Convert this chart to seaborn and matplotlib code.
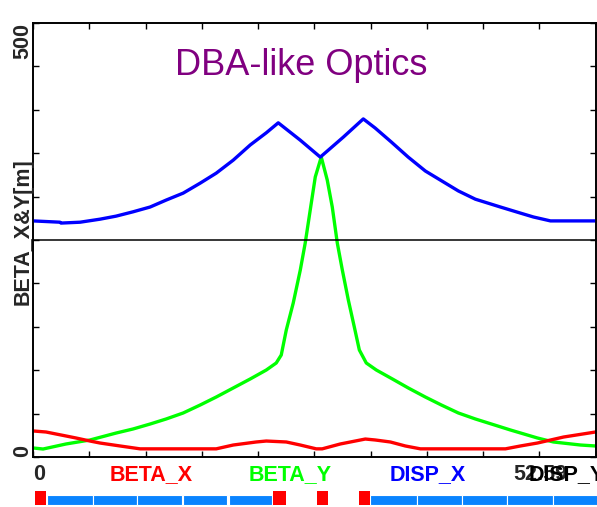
import matplotlib
matplotlib.use("Agg")
import matplotlib.pyplot as plt
import numpy as np
import seaborn as sns

# ---- optics functions along the cell ----
cell_length = 52.59

s_betx = [0.00, 1.22, 2.15, 3.09, 4.02, 5.33, 6.27, 8.14, 10.01, 17.13, 18.72, 20.87,
          21.81, 23.68, 24.99, 26.48, 27.04, 28.73, 31.07, 32.00, 33.41, 34.81, 36.22,
          44.17, 45.57, 47.16, 49.60, 52.59]
beta_x = [30.0, 28.8, 26.5, 24.2, 21.9, 18.4, 16.1, 12.7, 9.4, 9.4, 13.8, 17.3,
          18.4, 17.3, 13.8, 9.4, 9.4, 15.0, 20.7, 19.6, 17.3, 12.7, 9.4,
          9.4, 12.7, 16.1, 23.0, 28.8]

s_bety = [0.00, 0.94, 3.09, 5.33, 7.77, 9.36, 10.95, 12.45, 14.04, 15.63, 17.13,
          18.72, 20.31, 21.81, 22.74, 23.21, 23.68, 24.33, 24.99, 25.45, 25.92, 26.39,
          26.95, 27.51, 27.98, 28.45, 28.92, 29.48, 30.04, 30.51, 31.16, 32.10,
          33.60, 35.09, 36.68, 38.18, 39.77, 41.36, 42.86, 44.64, 47.16, 48.66,
          51.19, 52.59]
beta_y = [10.4, 9.2, 15.0, 19.6, 27.6, 32.3, 38.0, 43.8, 50.7, 59.9, 69.1,
          79.5, 89.9, 100.2, 108.3, 117.5, 146.3, 177.4, 215.4, 246.5, 284.6, 322.6,
          345.6, 319.1, 288.0, 246.5, 215.4, 180.9, 149.8, 123.3, 108.3, 100.2,
          89.9, 79.5, 69.1, 59.9, 50.7, 43.8, 38.0, 31.1, 21.9, 17.3,
          13.8, 12.7]

s_dx = [0.00, 2.53, 2.62, 4.40, 6.27, 7.77, 9.36, 10.95, 12.45, 14.04, 15.63,
        17.13, 18.72, 20.31, 21.81, 22.93, 24.99, 26.86, 29.01, 30.88, 31.99,
        33.49, 35.08, 36.68, 38.09, 39.77, 41.36, 43.70, 45.57, 46.79, 48.38, 52.59]
disp_x = [0.044, 0.041, 0.039, 0.041, 0.048, 0.055, 0.065, 0.076, 0.092, 0.108, 0.131,
          0.154, 0.184, 0.219, 0.247, 0.270, 0.230, 0.191, 0.237, 0.279, 0.258,
          0.226, 0.191, 0.159, 0.138, 0.113, 0.094, 0.076, 0.062, 0.053, 0.044, 0.044]

# ---- lattice elements (start, end) ----
bend_start = [0.19, 22.46, 26.58, 30.51]
bend_end = [1.22, 23.68, 27.61, 31.54]
quad_start = [1.31, 5.61, 9.73, 14.04, 18.34, 31.54, 35.93, 40.15, 44.36, 48.66]
quad_end = [5.61, 9.73, 13.94, 18.15, 22.37, 35.93, 40.15, 44.36, 48.66, 52.78]

labels = ["BETA_X", "BETA_Y", "DISP_X", "DISP_Y"]
label_colors = ["#ff0000", "#00ff00", "#0000ff", "#000000"]

sns.set_style("white")
plt.rcParams["font.family"] = ["Liberation Sans", "DejaVu Sans"]

W, H = 597, 507
fig = plt.figure(figsize=(W / 100, H / 100), dpi=100)


def fx(px):
    return px / W


def fy(py):
    return 1 - py / H


x0, x1, y_top, y_bot = 33, 595.5, 23, 457
ax = fig.add_axes([fx(x0), fy(y_bot), fx(x1) - fx(x0), fy(y_top) - fy(y_bot)])
ax.set_xlim(0, cell_length)
ax.set_ylim(0, 500)

sns.lineplot(x=s_bety, y=beta_y, ax=ax, color="#00ff00", linewidth=2.4,
             estimator=None, sort=False)
sns.lineplot(x=s_betx, y=beta_x, ax=ax, color="#ff0000", linewidth=2.4,
             estimator=None, sort=False)

ax.set_xticks(np.linspace(0, cell_length, 11))
ax.set_xticklabels([])
ax.set_yticks(np.arange(0, 501, 50))
ax.set_yticklabels([])
ax.tick_params(axis="x", direction="in", top=True, bottom=True, length=4, width=1, color="black")
ax.tick_params(axis="y", direction="in", left=True, right=False, length=4, width=1, color="black")
ax.set_xlabel("")
ax.set_ylabel("")

# dispersion on its own (right-hand) scale
ax2 = ax.twinx()
ax2.set_ylim(-0.5, 0.5)
ax2.axhline(0, color="black", linewidth=1.1)
sns.lineplot(x=s_dx, y=disp_x, ax=ax2, color="#0000ff", linewidth=2.4,
             estimator=None, sort=False)
ax2.set_yticks(np.linspace(-0.5, 0.5, 11))
ax2.set_yticklabels([])
ax2.set_ylabel("")
ax2.tick_params(axis="y", direction="in", right=True, left=False, length=4, width=1, color="black")

for a in (ax, ax2):
    for sp in a.spines.values():
        sp.set_color("black")
        sp.set_linewidth(1.2)

bold = dict(fontsize=15.5, fontweight="bold")

# axis annotations
fig.text(fx(23), fy(y_top), "500", rotation=90, ha="center", va="top", **bold)
fig.text(fx(23), fy(y_bot), "0", rotation=90, ha="center", va="bottom", **bold)
fig.text(fx(23), fy(232), "BETA_X&Y[m]", rotation=90, ha="center", va="center", **bold)
fig.text(fx(33), fy(475), "0", ha="left", va="center", **bold)
fig.text(fx(513), fy(475), f"{cell_length:.2f}", ha="left", va="center", **bold)

label_x = [151, 290, 428, 567]
for lx, txt, col in zip(label_x, labels, label_colors):
    fig.text(fx(lx), fy(475), txt, ha="center", va="center", color=col, **bold)

fig.text(fx(301), fy(75), "DBA-like Optics", ha="center", va="baseline",
         fontsize=26, color="#800080")

# lattice strip below the plot
lat = fig.add_axes([fx(x0), fy(506), fx(x1) - fx(x0), fy(490) - fy(506)])
lat.set_xlim(0, cell_length)
lat.set_ylim(0, 16)
lat.axis("off")
bend_w = [e - s for s, e in zip(bend_start, bend_end)]
quad_w = [e - s for s, e in zip(quad_start, quad_end)]
lat.bar(quad_start, 10, width=quad_w, bottom=1, align="edge", color="#0a84ff",
        edgecolor="white", linewidth=0.8, clip_on=False)
lat.bar(bend_start, 14, width=bend_w, bottom=1, align="edge", color="#ff0000",
        linewidth=0, clip_on=False)

fig.savefig("out.png", dpi=100)
